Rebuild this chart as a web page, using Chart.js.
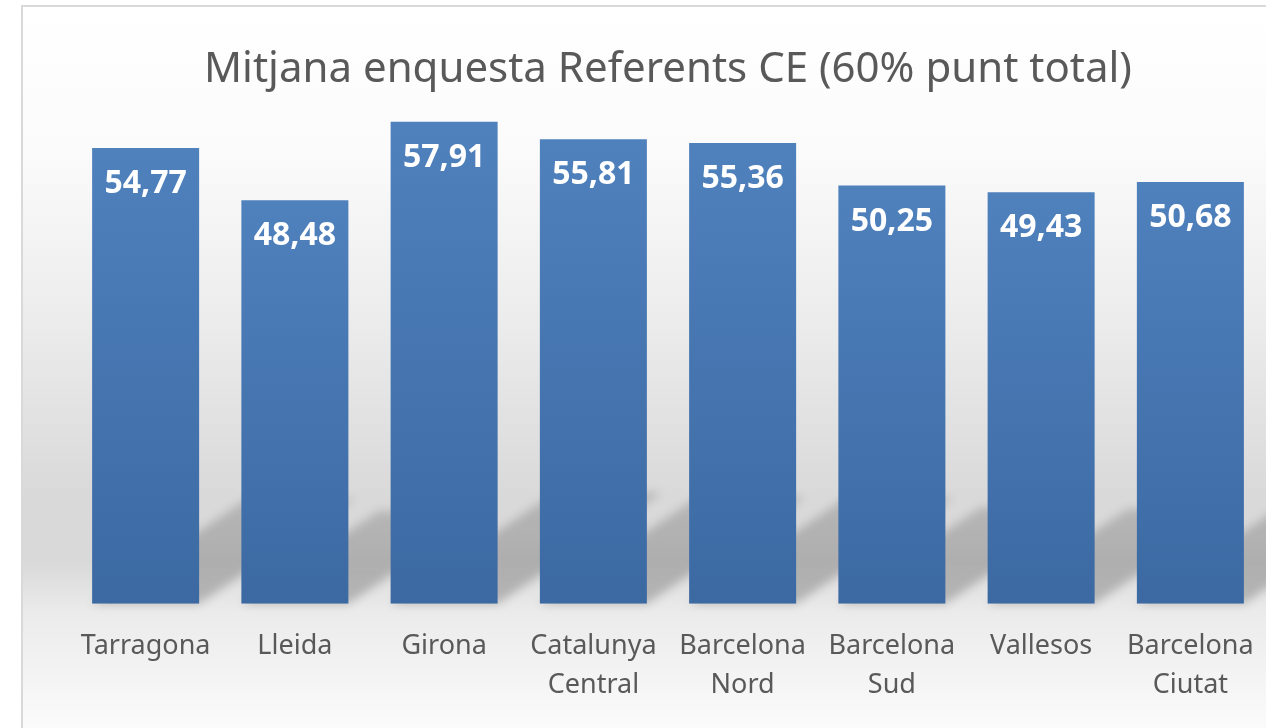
<!DOCTYPE html>
<html lang="ca">
<head>
    <meta charset="UTF-8">
    <script src="https://cdn.jsdelivr.net/npm/chart.js"></script>
    <title>Mitjana enquesta Referents CE</title>
    <style>
        html, body {
            margin: 0;
            padding: 0;
            background: #ffffff;
            overflow: hidden;
        }
        .wrap {
            width: 1266px;
            height: 728px;
        }
    </style>
</head>
<body>
    <div class="wrap">
        <canvas id="chart" width="1266" height="728"></canvas>
    </div>

    <script>
        // Dades llegides del gràfic
        const categories = [
            'Tarragona', 'Lleida', 'Girona', ['Catalunya', 'Central'],
            ['Barcelona', 'Nord'], ['Barcelona', 'Sud'], 'Vallesos', ['Barcelona', 'Ciutat']
        ];
        const mitjana = [54.77, 48.48, 57.91, 55.81, 55.36, 50.25, 49.43, 50.68];
        const yMin = 0;
        const yMax = 60;

        const FONT = '"Noto Sans", "Open Sans", sans-serif';

        // fons amb degradat i vora del quadre del gràfic
        const backgroundPlugin = {
            id: 'fons',
            beforeDraw(chart) {
                const ctx = chart.ctx;
                const w = chart.width, h = chart.height;
                ctx.save();
                const g = ctx.createLinearGradient(0, 6, 0, h);
                g.addColorStop(0, '#ffffff');
                g.addColorStop(0.2, '#fbfbfb');
                g.addColorStop(0.45, '#ebebeb');
                g.addColorStop(0.68, '#d9d9d9');
                g.addColorStop(0.77, '#d9d9d9');
                g.addColorStop(0.84, '#ebebeb');
                g.addColorStop(1, '#fbfbfb');
                ctx.fillStyle = g;
                ctx.fillRect(22, 6, w - 22, h - 6);
                ctx.strokeStyle = '#d9d9d9';
                ctx.lineWidth = 2;
                ctx.beginPath();
                ctx.moveTo(22, h);
                ctx.lineTo(22, 6);
                ctx.lineTo(w, 6);
                ctx.stroke();
                ctx.restore();
            }
        };

        // ombra en perspectiva darrere de cada barra
        const shadowPlugin = {
            id: 'ombres',
            beforeDatasetsDraw(chart) {
                const ctx = chart.ctx;
                const bars = chart.getDatasetMeta(0).data;
                ctx.save();
                ctx.filter = 'blur(5px)';
                bars.forEach(bar => {
                    const hgt = bar.base - bar.y;
                    const dx = hgt * 0.34;
                    const dy = hgt * 0.23;
                    const l = bar.x - bar.width / 2;
                    const r = bar.x + bar.width / 2;
                    const g = ctx.createLinearGradient(0, bar.base, 0, bar.base - dy);
                    g.addColorStop(0, 'rgba(0,0,0,0.22)');
                    g.addColorStop(1, 'rgba(0,0,0,0.16)');
                    ctx.fillStyle = g;
                    ctx.beginPath();
                    ctx.moveTo(l, bar.base);
                    ctx.lineTo(r, bar.base);
                    ctx.lineTo(r + dx, bar.base - dy);
                    ctx.lineTo(l + dx, bar.base - dy);
                    ctx.closePath();
                    ctx.fill();
                });
                ctx.restore();
            }
        };

        // etiquetes de valor dins de la barra
        const valueLabels = {
            id: 'valors',
            afterDatasetsDraw(chart) {
                const ctx = chart.ctx;
                const bars = chart.getDatasetMeta(0).data;
                ctx.save();
                ctx.font = 'bold 32px ' + FONT;
                ctx.fillStyle = '#ffffff';
                ctx.textAlign = 'center';
                ctx.textBaseline = 'middle';
                bars.forEach((bar, i) => {
                    const txt = mitjana[i].toFixed(2).replace('.', ',');
                    ctx.fillText(txt, bar.x, bar.y + 36);
                });
                ctx.restore();
            }
        };

        const ctx = document.getElementById('chart').getContext('2d');
        new Chart(ctx, {
            type: 'bar',
            data: {
                labels: categories,
                datasets: [{
                    label: 'Mitjana',
                    data: mitjana,
                    backgroundColor: (c) => {
                        const chart = c.chart;
                        if (!chart.chartArea || c.parsed === undefined) return '#4677b4';
                        const ys = chart.scales.y;
                        const top = ys.getPixelForValue(c.parsed.y);
                        const bottom = ys.getPixelForValue(0);
                        const g = chart.ctx.createLinearGradient(0, top, 0, bottom);
                        g.addColorStop(0, '#4f81bd');
                        g.addColorStop(1, '#3c69a2');
                        return g;
                    },
                    borderWidth: 0,
                    barPercentage: 0.717,
                    categoryPercentage: 1
                }]
            },
            options: {
                responsive: false,
                animation: false,
                layout: {
                    padding: { left: 71, right: 1, top: 0, bottom: 0 }
                },
                plugins: {
                    legend: { display: false },
                    tooltip: { enabled: false },
                    title: {
                        display: true,
                        text: 'Mitjana enquesta Referents CE (60% punt total)',
                        color: '#595959',
                        font: { family: FONT, size: 42, weight: 'normal', lineHeight: 1.2 },
                        padding: { top: 45, bottom: 9 }
                    }
                },
                scales: {
                    x: {
                        grid: { display: false, drawTicks: false },
                        border: { display: false },
                        afterFit(scale) {
                            scale.paddingLeft = 0;
                            scale.paddingRight = 0;
                        },
                        ticks: {
                            color: '#595959',
                            font: { family: FONT, size: 27, lineHeight: 1.45 },
                            padding: 23,
                            autoSkip: false,
                            maxRotation: 0
                        }
                    },
                    y: {
                        display: false,
                        min: yMin,
                        max: yMax
                    }
                }
            },
            plugins: [backgroundPlugin, shadowPlugin, valueLabels]
        });
    </script>
</body>
</html>
